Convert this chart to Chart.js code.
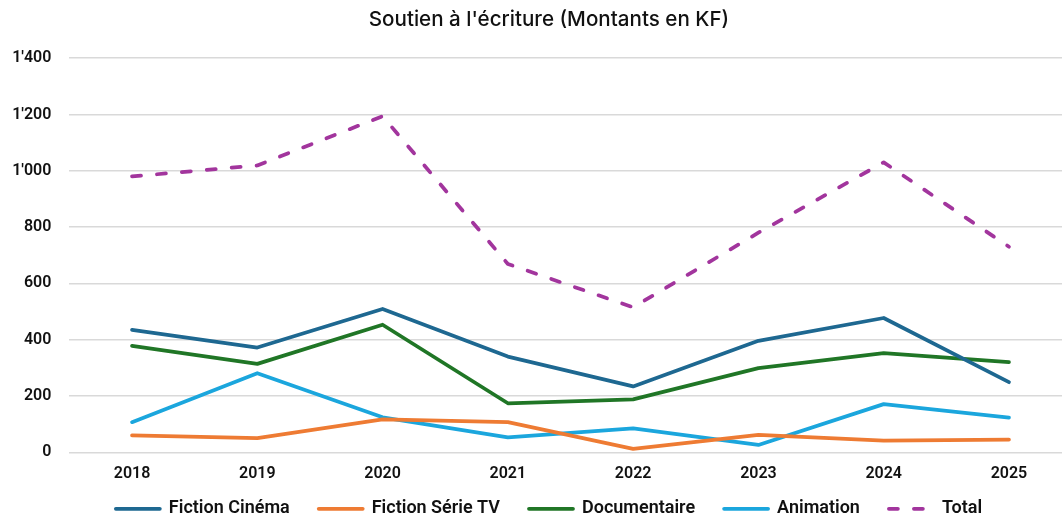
<!DOCTYPE html>
<html>
<head>
<meta charset="utf-8">
<script src="https://cdn.jsdelivr.net/npm/chart.js@4/dist/chart.umd.min.js"></script>
<style>
  html, body { margin: 0; padding: 0; background: #ffffff; overflow: hidden; }
  #wrap { width: 1098px; height: 517px; position: relative; }
</style>
</head>
<body>
<div id="wrap"><canvas id="c"></canvas></div>
<script>
const years = ['2018', '2019', '2020', '2021', '2022', '2023', '2024', '2025'];
const fictionCinema = [435, 372, 509, 340, 234, 396, 477, 249];
const fictionSerieTV = [60, 50, 117, 107, 12, 62, 41, 45];
const documentaire = [378, 314, 453, 174, 188, 299, 352, 320];
const animation = [107, 281, 124, 53, 85, 26, 171, 123];
const total = [980, 1019, 1194, 669, 515, 780, 1030, 730];
const yTicks = [0, 200, 400, 600, 800, 1000, 1200, 1400];

function fmt(v) {
  return String(v).replace(/\B(?=(\d{3})+(?!\d))/g, "'");
}

const FONT = 'Roboto, "DejaVu Sans", sans-serif';
const TITLE_FONT = 'Inter, Roboto, sans-serif';
const LW = 3.75;

// let the x tick labels draw below the (shortened) x-axis box
const labelRoom = {
  id: 'labelRoom',
  afterLayout(chart) {
    const s = chart.scales.x;
    s.bottom = s.top + 40;
  }
};

new Chart(document.getElementById('c'), {
  type: 'line',
  data: {
    labels: years,
    datasets: [
      { label: 'Fiction Cinéma', data: fictionCinema, borderColor: '#1e6891', backgroundColor: '#1e6891', borderWidth: LW },
      { label: 'Fiction Série TV', data: fictionSerieTV, borderColor: '#ee7b33', backgroundColor: '#ee7b33', borderWidth: LW },
      { label: 'Documentaire', data: documentaire, borderColor: '#207626', backgroundColor: '#207626', borderWidth: LW },
      { label: 'Animation', data: animation, borderColor: '#1ba6dd', backgroundColor: '#1ba6dd', borderWidth: LW },
      { label: 'Total', data: total, borderColor: '#a2359d', backgroundColor: '#a2359d', borderWidth: LW, borderDash: [9, 16] }
    ]
  },
  plugins: [labelRoom],
  options: {
    responsive: true,
    maintainAspectRatio: false,
    animation: false,
    layout: { padding: { left: 0, right: 0, top: 0, bottom: -10.75 } },
    elements: {
      line: { tension: 0, borderCapStyle: 'round', borderJoinStyle: 'round' },
      point: { radius: 0, hoverRadius: 0 }
    },
    plugins: {
      title: {
        display: true,
        text: "Soutien à l'écriture (Montants en KF)",
        color: '#111111',
        font: { family: TITLE_FONT, size: 20.6, weight: '500' },
        padding: { top: 7.5, bottom: 26 }
      },
      legend: {
        position: 'bottom',
        labels: {
          usePointStyle: true,
          pointStyle: 'line',
          pointStyleWidth: 44,
          boxHeight: 15,
          padding: 29,
          color: '#111111',
          font: { family: FONT, size: 18, weight: '600' },
          generateLabels: (chart) => {
            const items = Chart.defaults.plugins.legend.labels.generateLabels(chart);
            return items.map((it) => {
              const ds = chart.data.datasets[it.datasetIndex];
              it.lineDash = ds.borderDash || [];
              it.lineCap = 'round';
              it.lineWidth = LW;
              it.strokeStyle = ds.borderColor;
              return it;
            });
          }
        }
      },
      tooltip: { enabled: false }
    },
    scales: {
      x: {
        offset: true,
        grid: { display: false, drawTicks: false },
        border: { display: false },
        afterFit: (axis) => { axis.height = 18.5; },
        ticks: {
          color: '#111111',
          padding: 12.5,
          maxRotation: 0,
          font: { family: FONT, size: 16, weight: '600' }
        }
      },
      y: {
        min: yTicks[0],
        max: yTicks[yTicks.length - 1],
        afterBuildTicks: (axis) => { axis.ticks = yTicks.map(v => ({ value: v })); },
        afterFit: (axis) => { axis.width = 69.4; },
        grid: { color: '#d9d9d9', lineWidth: 1.5, drawTicks: false },
        border: { display: false },
        ticks: {
          color: '#111111',
          padding: 18,
          font: { family: FONT, size: 16, weight: '600' },
          callback: (v) => fmt(v)
        }
      },
      yRight: {
        position: 'right',
        display: true,
        grid: { display: false, drawTicks: false },
        border: { display: false },
        ticks: { display: false },
        afterFit: (axis) => { axis.width = 26.4; }
      }
    }
  }
});
</script>
</body>
</html>
